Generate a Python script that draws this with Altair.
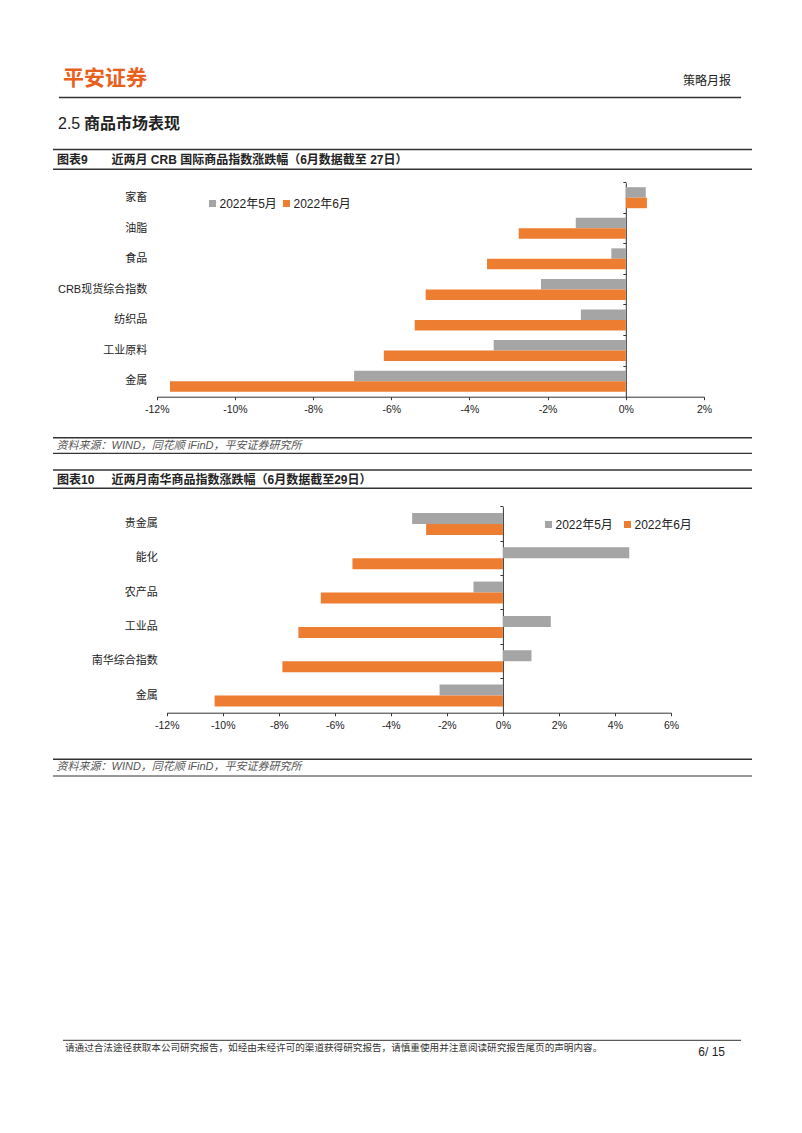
import altair as alt
import pandas as pd

# ---------------- data ----------------
series = ["2022年5月", "2022年6月"]

cats1 = ["家畜", "油脂", "食品", "CRB现货综合指数", "纺织品", "工业原料", "金属"]
may1 = [0.51, -1.28, -0.37, -2.17, -1.15, -3.38, -6.95]
jun1 = [0.54, -2.74, -3.55, -5.12, -5.40, -6.19, -11.66]

cats2 = ["贵金属", "能化", "农产品", "工业品", "南华综合指数", "金属"]
may2 = [-3.24, 4.51, -1.05, 1.71, 1.02, -2.26]
jun2 = [-2.74, -5.37, -6.50, -7.30, -7.87, -10.29]

ticks1 = [-12, -10, -8, -6, -4, -2, 0, 2]
ticks2 = [-12, -10, -8, -6, -4, -2, 0, 2, 4, 6]

logo_text = "平安证券"
report_type = "策略月报"
section_num = "2.5"
section_title = "商品市场表现"
fig1_no = "图表9"
fig1_title = "近两月 CRB 国际商品指数涨跌幅（6月数据截至 27日）"
fig2_no = "图表10"
fig2_title = "近两月南华商品指数涨跌幅（6月数据截至29日）"
source_text = "资料来源：WIND，同花顺 iFinD，平安证券研究所"
footer_text = "请通过合法途径获取本公司研究报告，如经由未经许可的渠道获得研究报告，请慎重使用并注意阅读研究报告尾页的声明内容。"
page_text = "6/ 15"

FONT = "Liberation Sans, Noto Sans CJK SC"
GRAY = "#A5A5A5"
ORANGE = "#ED7D31"
INK = "#222222"


def long_df(cats, a, b):
    rows = []
    for c, va, vb in zip(cats, a, b):
        rows.append({"cat": c, "series": series[0], "value": va})
        rows.append({"cat": c, "series": series[1], "value": vb})
    return pd.DataFrame(rows)


df1 = long_df(cats1, may1, jun1)
df2 = long_df(cats2, may2, jun2)
one = pd.DataFrame({"k": [0]})

PAGE_W, PAGE_H = 802, 1133


def txt(s, x, y, size=12, weight="normal", color=INK, align="left", style="normal"):
    return alt.Chart(one).mark_text(
        align=align, baseline="middle", fontSize=size, fontWeight=weight,
        color=color, font=FONT, fontStyle=style
    ).encode(x=alt.value(x), y=alt.value(y), text=alt.value(s))


def hline(x1, x2, y, w=1.0, color="#333333"):
    return alt.Chart(one).mark_rule(strokeWidth=w, color=color).encode(
        x=alt.value(x1), x2=alt.value(x2), y=alt.value(y)
    )


def bar_panel(df, cats, ticks, xr, yr, off_range, label_right, legend_xy, col_pad):
    x0 = xr[0] + (0 - ticks[0]) / (ticks[-1] - ticks[0]) * (xr[1] - xr[0])
    return alt.Chart(df).mark_bar().encode(
        x=alt.X(
            "value:Q",
            scale=alt.Scale(domain=[ticks[0], ticks[-1]], range=list(xr), nice=False, zero=True),
            axis=alt.Axis(
                orient="bottom", offset=yr[1] - PAGE_H, values=ticks,
                labelExpr="datum.value + '%'", title=None, grid=False,
                domainColor="#333333", tickColor="#333333", tickSize=3,
                labelPadding=5, labelFontSize=10.5, labelColor=INK, labelFont=FONT,
                labelFlush=False, labelOverlap=False,
            ),
        ),
        y=alt.Y(
            "cat:N", sort=cats,
            scale=alt.Scale(domain=cats, range=list(yr), paddingInner=0, paddingOuter=0),
            axis=alt.Axis(
                orient="left", offset=-x0, title=None, grid=False,
                domainColor="#333333", tickColor="#333333", tickSize=3,
                bandPosition=0,
                labelPadding=x0 - label_right - 3, labelFontSize=11,
                labelColor=INK, labelFont=FONT, labelLimit=300,
            ),
        ),
        yOffset=alt.YOffset(
            "series:N", sort=series,
            scale=alt.Scale(domain=series, range=list(off_range), paddingInner=0, paddingOuter=0),
        ),
        color=alt.Color(
            "series:N",
            scale=alt.Scale(domain=series, range=[GRAY, ORANGE]),
            legend=alt.Legend(
                orient="none", legendX=legend_xy[0], legendY=legend_xy[1],
                direction="horizontal", title=None, symbolType="square",
                symbolSize=49, symbolStrokeWidth=0, labelFontSize=12,
                labelFont=FONT, labelColor=INK, labelOffset=1,
                columnPadding=col_pad, padding=0,
            ),
        ),
    )


panel1 = bar_panel(df1, cats1, ticks1, (156.7, 704.0), (182.7, 396.7), (4.5, 25.5),
                   146.7, (206.5, 197.5), 3)
panel2 = bar_panel(df2, cats2, ticks2, (166.7, 671.0), (506.7, 712.7), (6.2, 28.2),
                   157.3, (542.5, 518.5), 8)

deco = [
    txt(logo_text, 63, 79, size=21, weight="bold", color="#E8601C"),
    txt(report_type, 731, 81, size=12, align="right"),
    hline(59, 741, 97.5, 1.3),
    txt(section_num, 58, 124, size=16),
    txt(section_title, 84, 124, size=16, weight="bold"),
    hline(53, 752, 149.5, 1.5),
    txt(fig1_no, 57, 160, size=12, weight="bold"),
    txt(fig1_title, 111.5, 160, size=12, weight="bold"),
    hline(53, 752, 169.3, 1.5),
    hline(53, 752, 437.7, 1.5),
    txt(source_text, 56.5, 445.5, size=11, color="#555555", style="italic"),
    hline(53, 752, 453.3, 1.2),
    hline(53, 752, 470, 1.5),
    txt(fig2_no, 57, 479.5, size=12, weight="bold"),
    txt(fig2_title, 111.5, 479.5, size=12, weight="bold"),
    hline(53, 752, 488.3, 1.5),
    hline(53, 752, 759.3, 1.5),
    txt(source_text, 56.5, 767, size=11, color="#555555", style="italic"),
    hline(53, 752, 776, 1.2),
    hline(63, 741, 1040.3, 1.0),
    txt(footer_text, 65, 1048, size=9.6, color="#333333"),
    txt(page_text, 725, 1052, size=12, align="right"),
]

chart = alt.layer(*deco, panel1, panel2).resolve_scale(
    x="independent", y="independent", color="independent", yOffset="independent"
).properties(
    width=PAGE_W, height=PAGE_H, padding=0,
    autosize=alt.AutoSizeParams(type="none"),
    background="white",
).configure_view(stroke=None)

chart.save("out.html", embed_options={"renderer": "svg", "actions": False})
